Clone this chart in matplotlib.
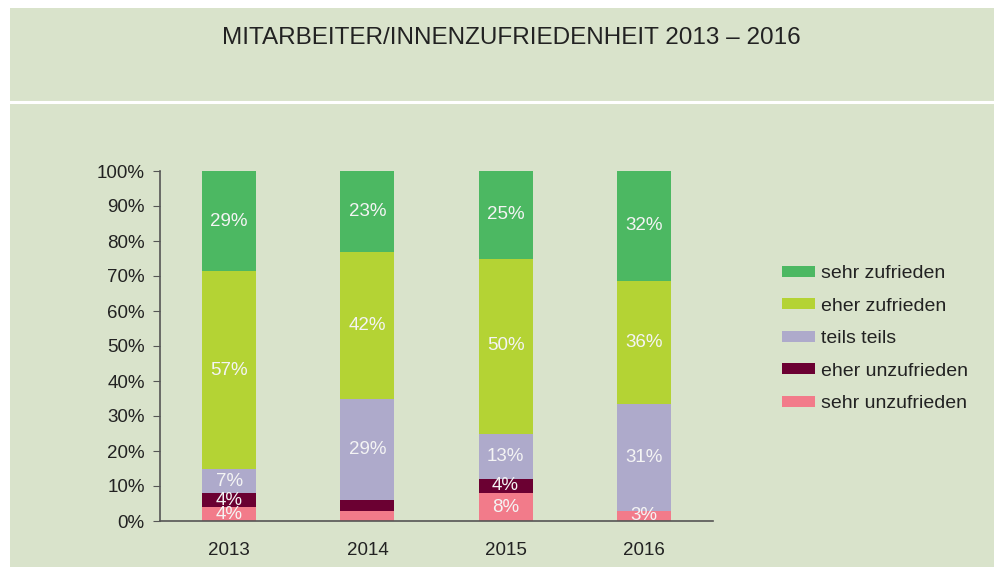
import matplotlib
matplotlib.use("Agg")
import matplotlib.pyplot as plt
import numpy as np

years = ["2013", "2014", "2015", "2016"]
categories = ["sehr unzufrieden", "eher unzufrieden", "teils teils", "eher zufrieden", "sehr zufrieden"]
sehr_unzufrieden = [4, 3, 8, 3]
eher_unzufrieden = [4, 3, 4, 0]
teils_teils = [7, 29, 13, 31]
eher_zufrieden = [57, 42, 50, 36]
sehr_zufrieden = [29, 23, 25, 32]
show_label = [[True, False, True, True],
              [True, False, True, False],
              [True, True, True, True],
              [True, True, True, True],
              [True, True, True, True]]
colors = ["#f27b8a", "#6b0032", "#aeaacb", "#b4d334", "#4cb862"]
ytick_labels = ["0%", "10%", "20%", "30%", "40%", "50%", "60%", "70%", "80%", "90%", "100%"]

bg = "#d9e3cb"
W, H = 995, 567
plt.rcParams["font.family"] = ["Liberation Sans", "DejaVu Sans"]
fig = plt.figure(figsize=(W / 100, H / 100), dpi=100)
fig.patch.set_facecolor(bg)

# white margins (top and left)
fig.add_artist(plt.Rectangle((0, (H - 8) / H), 1, 8 / H, transform=fig.transFigure,
                             facecolor="white", edgecolor="none", zorder=0))
fig.add_artist(plt.Rectangle((0, 0), 10 / W, 1, transform=fig.transFigure,
                             facecolor="white", edgecolor="none", zorder=0))
# white separator line
fig.add_artist(plt.Line2D([10 / W, 1], [(H - 102) / H] * 2, transform=fig.transFigure,
                          color="white", lw=2.2, zorder=1))
fig.text(511 / W, (H - 44) / H, "MITARBEITER/INNENZUFRIEDENHEIT 2013 – 2016",
         ha="center", va="baseline", fontsize=17.5, color="#222222")

left, right, bottom, top = 160, 713, 521, 171
ax = fig.add_axes([left / W, (H - bottom) / H, (right - left) / W, (bottom - top) / H])
ax.set_facecolor("none")
ax.set_zorder(2)

data = np.array([sehr_unzufrieden, eher_unzufrieden, teils_teils, eher_zufrieden, sehr_zufrieden], dtype=float)
totals = data.sum(axis=0)
frac = data / totals * 100
x = np.arange(len(years))
base = np.zeros(len(years))
handles = []
for i, cat in enumerate(categories):
    b = ax.bar(x, frac[i], bottom=base, width=0.39, color=colors[i], label=cat, zorder=2)
    handles.append(b)
    for j in range(len(years)):
        if show_label[i][j] and data[i][j] > 0:
            ax.text(x[j], base[j] + frac[i][j] / 2, f"{int(data[i][j])}%", ha="center", va="center",
                    fontsize=13.5, color="#f4f4f4", zorder=3)
    base += frac[i]

ax.set_xlim(-0.5, len(years) - 0.5)
ax.set_ylim(0, 100)
ax.set_yticks(np.arange(0, 101, 10))
ax.set_yticklabels(ytick_labels)
ax.set_xticks(x)
ax.set_xticklabels(years)
for s in ["top", "right"]:
    ax.spines[s].set_visible(False)
for s in ["left", "bottom"]:
    ax.spines[s].set_color("#555555")
    ax.spines[s].set_linewidth(1.2)
ax.tick_params(axis="y", direction="out", length=5, color="#555555", labelsize=13.5,
               labelcolor="#222222", pad=6)
ax.tick_params(axis="x", length=0, labelsize=13.5, labelcolor="#222222", pad=15)

leg = fig.legend(handles[::-1], categories[::-1], loc="upper left",
                 bbox_to_anchor=(782 / W, (H - 265) / H), frameon=False, fontsize=14,
                 handlelength=1.7, handleheight=0.5, labelspacing=0.8, handletextpad=0.3,
                 borderpad=0, borderaxespad=0)
for t in leg.get_texts():
    t.set_color("#222222")

fig.savefig("out.png", dpi=100, facecolor=fig.get_facecolor())
